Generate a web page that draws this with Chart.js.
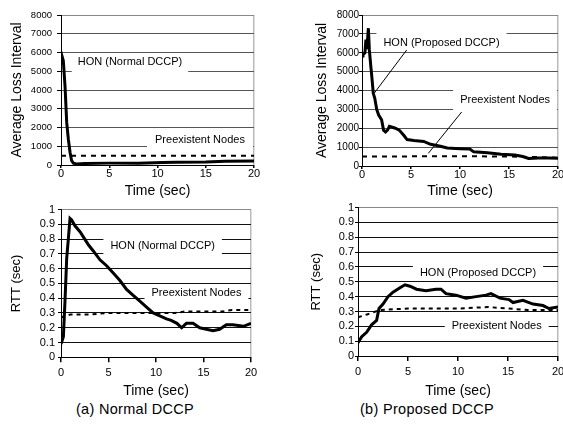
<!DOCTYPE html>
<html>
<head>
<meta charset="utf-8">
<script src="https://cdn.jsdelivr.net/npm/chart.js@4.4.1/dist/chart.umd.min.js"></script>
<style>
body{margin:0;background:#fff;width:563px;height:429px;position:relative;overflow:hidden;font-family:Arial,"Liberation Sans",sans-serif}
canvas{position:absolute}
.cap{position:absolute;top:401px;width:220px;font-size:14.5px;letter-spacing:0.3px;text-align:center;color:#000}
</style>
</head>
<body>
<canvas id="lossNormal" width="280" height="200" style="left:0;top:0"></canvas>
<canvas id="lossProposed" width="300" height="200" style="left:280px;top:0"></canvas>
<canvas id="rttNormal" width="280" height="200" style="left:0;top:200px"></canvas>
<canvas id="rttProposed" width="300" height="200" style="left:280px;top:200px"></canvas>
<div class="cap" style="left:25px">(a) Normal DCCP</div>
<div class="cap" style="left:317px">(b) Proposed DCCP</div>

<script>

/* ---------------- DATA ---------------- */

// (a) loss interval, normal DCCP
const lossNormalHonT = [0,0.07,0.24,0.42,0.59,0.76,0.94,1.1,1.28,1.6,2.5,5,8,10.5,12,15,17,20]
const lossNormalHonV = [5800,5870,5560,4180,2270,1380,670,230,100,60,80,100,100,130,150,160,200,210]
const lossNormalPreT = [0,1,5,10,15,20]
const lossNormalPreV = [500,500,500,500,500,500]

// (b) loss interval, proposed DCCP
const lossPropHonT = [0,0.1,0.3,0.4,0.5,0.65,0.75,0.9,1.0,1.15,1.3,1.5,1.7,2.0,2.2,2.4,2.6,2.8,3.4,3.8,4.3,4.6,5.3,6.3,7.0,8.0,8.7,10.0,11.0,11.4,12.8,14.2,15.6,16.4,17.0,18.0,19.0,20]
const lossPropHonV = [5830,5900,6000,6700,6200,7300,6150,5280,4750,3850,3600,3000,2700,2450,1900,1800,1900,2100,2000,1900,1600,1400,1350,1300,1150,1050,950,920,900,750,700,620,580,500,400,420,420,410]
const lossPropPreT = [0,2,5,10,15,18,20]
const lossPropPreV = [500,500,510,520,500,470,440]

// (a) RTT, normal DCCP
const rttNormalHonT = [0,0.25,0.42,0.6,0.77,0.95,1.12,1.47,2.0,2.5,2.9,3.4,4.1,4.8,5.5,6.2,6.9,7.6,8.3,9.0,9.7,10.4,11.1,11.6,12.2,12.7,13.2,13.9,14.6,15.3,16.0,16.7,17.4,18.1,19.2,20]
const rttNormalHonV = [0.09,0.14,0.38,0.67,0.80,0.94,0.93,0.89,0.85,0.80,0.76,0.72,0.66,0.62,0.57,0.52,0.46,0.42,0.38,0.34,0.30,0.28,0.26,0.25,0.23,0.20,0.23,0.23,0.20,0.19,0.18,0.19,0.22,0.22,0.21,0.23]
const rttNormalPreT = [0,0.5,1,3,5,8,10,12,13,15,17,18,20]
const rttNormalPreV = [0.27,0.28,0.29,0.29,0.30,0.30,0.30,0.30,0.31,0.31,0.31,0.32,0.32]

// (b) RTT, proposed DCCP
const rttPropHonT = [0,0.37,0.86,1.36,1.86,2.1,2.5,3.0,3.5,4.2,4.7,5.2,5.85,6.8,7.8,8.3,8.8,9.8,10.8,11.8,12.8,13.3,14.2,15.1,15.5,16.5,17.5,18.5,19.1,20]
const rttPropHonV = [0.09,0.13,0.16,0.21,0.24,0.32,0.35,0.40,0.43,0.46,0.48,0.47,0.45,0.44,0.45,0.45,0.42,0.41,0.39,0.40,0.41,0.42,0.39,0.38,0.36,0.375,0.35,0.34,0.32,0.33]
const rttPropPreT = [0,0.9,2.2,5,10,13,17,20]
const rttPropPreV = [0.26,0.28,0.31,0.32,0.32,0.33,0.31,0.31]

const timeTicks = [0,5,10,15,20]
const lossTicks = [0,1000,2000,3000,4000,5000,6000,7000,8000]
const rttTicks = [0,0.1,0.2,0.3,0.4,0.5,0.6,0.7,0.8,0.9,1]


/* ---------------- LABEL PLUGIN ---------------- */

const notesPlugin = {
id:"notes",
beforeDatasetsDraw(chart,args,opts){
const {ctx,scales:{x,y}} = chart
ctx.save()
ctx.font = '11px Arial, "Liberation Sans", sans-serif'
ctx.textAlign = "center"
ctx.textBaseline = "middle"
;(opts.labels||[]).forEach(n=>{
const cx = x.getPixelForValue(n.x)
const cy = y.getPixelForValue(n.y)
const w = ctx.measureText(n.text).width
ctx.fillStyle = "#fff"
ctx.fillRect(cx-w/2-n.padX, cy-n.top, w+2*n.padX, n.top+n.bottom)
ctx.fillStyle = "#000"
ctx.fillText(n.text, cx, cy)
})
;(opts.lines||[]).forEach(l=>{
ctx.beginPath()
ctx.moveTo(x.getPixelForValue(l[0]), y.getPixelForValue(l[1]))
ctx.lineTo(x.getPixelForValue(l[2]), y.getPixelForValue(l[3]))
ctx.strokeStyle = "#000"
ctx.lineWidth = 1
ctx.stroke()
})
ctx.restore()
}
}

Chart.register(notesPlugin)
Chart.defaults.font.family = 'Arial, "Liberation Sans", sans-serif'
Chart.defaults.color = "#000"

const pts = (t,v) => t.map((tt,i)=>({x:tt,y:v[i]}))


/* ---------------- PANEL ---------------- */

function drawPanel(id,p){

new Chart(document.getElementById(id),{

type:"line",

data:{
datasets:[
{
label:"HON",
data:pts(p.honT,p.honV),
borderColor:"#000",
borderWidth:3,
pointRadius:0,
tension:0
},
{
label:"Preexistent Nodes",
data:pts(p.preT,p.preV),
borderColor:"#000",
borderWidth:2,
borderDash:p.dash,
pointRadius:0,
tension:0
}
]
},

options:{
responsive:false,
animation:false,
events:[],
layout:{padding:{top:p.top,right:p.right,left:0,bottom:0}},
plugins:{
legend:{display:false},
tooltip:{enabled:false},
notes:{labels:p.labels,lines:p.lines||[]}
},
scales:{
x:{
type:"linear",
min:0,max:20,
afterBuildTicks:s=>{s.ticks = timeTicks.map(v=>({value:v}))},
afterFit:s=>{s.height = p.xH},
grid:{
color:c=>c.tick && c.tick.value===20 ? "#bbb" : "rgba(0,0,0,0)",
lineWidth:1.5,
tickColor:"#000",
tickLength:p.xTick
},
border:{color:"#000",width:1},
ticks:{font:{size:11},padding:p.xPad,maxRotation:0,autoSkip:false},
title:{display:true,text:"Time (sec)",font:{size:14,weight:"normal"},padding:{top:0,bottom:p.xTitlePad}}
},
y:{
min:0,max:p.yMax,
afterBuildTicks:s=>{s.ticks = p.yTicks.map(v=>({value:v}))},
afterFit:s=>{s.width = p.yW},
grid:{
color:c=>c.tick && c.tick.value===p.yMax ? "#888" : p.gridColor,
tickColor:"#000",
tickLength:p.yTick
},
border:{color:"#000",width:1},
ticks:{font:{size:p.yFont},padding:p.yPad,autoSkip:false,callback:v=>String(v)},
title:{display:true,text:p.yTitle,font:{size:p.yTitleSize,weight:"normal"},padding:{top:p.yTitlePad,bottom:0}}
}
}
}

})

}

drawPanel("lossNormal",{
honT:lossNormalHonT,honV:lossNormalHonV,preT:lossNormalPreT,preV:lossNormalPreV,dash:[5,5],
top:15,right:26,xH:35,yW:61,yMax:8000,yTicks:lossTicks,
xTick:3,xPad:-1,xTitlePad:0.6,yTick:4,yPad:5,yFont:9.5,
yTitle:"Average Loss Interval",yTitleSize:14,yTitlePad:8.3,gridColor:"#555",
labels:[
{x:7.15,y:5470,text:"HON (Normal DCCP)",padX:6,top:8,bottom:10},
{x:14.4,y:1333,text:"Preexistent Nodes",padX:8,top:9,bottom:9}
]
})

drawPanel("lossProposed",{
honT:lossPropHonT,honV:lossPropHonV,preT:lossPropPreT,preV:lossPropPreV,dash:[5,5],
top:15,right:22,xH:34,yW:82,yMax:8000,yTicks:lossTicks,
xTick:3,xPad:-1,xTitlePad:0.6,yTick:3,yPad:0,yFont:10,
yTitle:"Average Loss Interval",yTitleSize:14,yTitlePad:33.3,gridColor:"#555",
labels:[
{x:8.11,y:6517,text:"HON (Proposed DCCP)",padX:7,top:11,bottom:7},
{x:14.6,y:3497,text:"Preexistent Nodes",padX:7,top:11,bottom:11}
],
lines:[[4.56,6146,1.26,3868],[10.17,2861,6.77,673]]
})

drawPanel("rttNormal",{
honT:rttNormalHonT,honV:rttNormalHonV,preT:rttNormalPreT,preV:rttNormalPreV,dash:[4,4],
top:7.3,right:29,xH:42.7,yW:61,yMax:1,yTicks:rttTicks,
xTick:5,xPad:4,xTitlePad:0,yTick:3,yPad:3,yFont:11,
yTitle:"RTT (sec)",yTitleSize:13,yTitlePad:8.9,gridColor:"#111",
labels:[
{x:10.7,y:0.755,text:"HON (Normal DCCP)",padX:7,top:9.5,bottom:9.5},
{x:14.26,y:0.435,text:"Preexistent Nodes",padX:7,top:7,bottom:7}
]
})

drawPanel("rttProposed",{
honT:rttPropHonT,honV:rttPropHonV,preT:rttPropPreT,preV:rttPropPreV,dash:[4,4],
top:7,right:22,xH:44,yW:78,yMax:1,yTicks:rttTicks,
xTick:5,xPad:4,xTitlePad:0,yTick:3,yPad:1,yFont:11,
yTitle:"RTT (sec)",yTitleSize:13,yTitlePad:28.9,gridColor:"#111",
labels:[
{x:12.0,y:0.557,text:"HON (Proposed DCCP)",padX:7,top:9,bottom:6},
{x:13.87,y:0.203,text:"Preexistent Nodes",padX:7,top:7,bottom:7}
]
})

</script>
</body>
</html>
